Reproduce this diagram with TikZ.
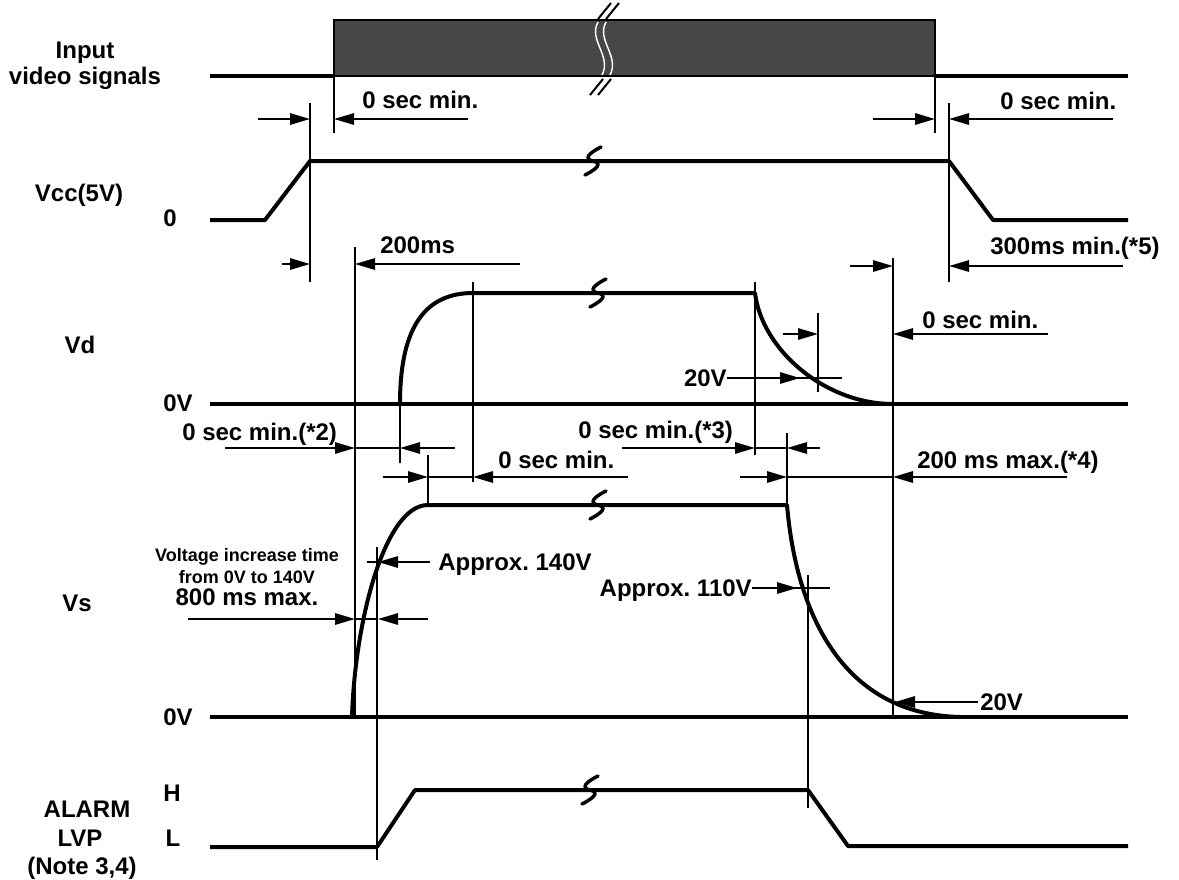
\documentclass[tikz,border=0pt]{standalone}
\usepackage{fontspec}
\setmainfont{Liberation Sans}
\usetikzlibrary{arrows.meta}
\begin{document}
\frenchspacing
\begin{tikzpicture}[x=0.75pt,y=-0.75pt,
  sig/.style={line width=3pt, line join=round},
  base/.style={line width=2.6pt},
  guide/.style={line width=1.5pt},
  dim/.style={line width=1.5pt, -{Triangle[length=15pt,width=8.5pt]}},
  lbl/.style={font=\fontsize{18}{21}\selectfont\bfseries, inner sep=0pt},
  sml/.style={font=\fontsize{13.5}{16}\selectfont\bfseries, inner sep=0pt},
  brk/.pic={\draw[line width=2.6pt,line cap=round] (8,-14) .. controls (0,-10) and (-9,-4) .. (-3,-1) -- (3,1) .. controls (9,4) and (0,10) .. (-8,14);}
]
\useasboundingbox (0,0) rectangle (1179,879);

% ---------- Input video signals ----------
\node[lbl,anchor=base] (tin1) at (85,58) {Input};
\node[lbl,anchor=base] (tin2) at (85,84) {video signals};
\draw[sig] (210,76) -- (334,76);
\filldraw[fill=black!72, draw=black, line width=1.5pt] (334,20) rectangle (935,76);
\draw[sig] (935,76) -- (1128,76);
\draw[white, line width=1.1pt] (598,22) .. controls (588,40) and (612,56) .. (602,75);
\draw[white, line width=1.1pt] (606,22) .. controls (596,40) and (620,56) .. (610,75);
\draw[line width=1.5pt] (598,19) -- (611,3);
\draw[line width=1.5pt] (606,19) -- (619,3);
\draw[line width=1.5pt] (603,79) -- (590,95);
\draw[line width=1.5pt] (611,79) -- (598,95);

\draw[guide] (334,76) -- (334,133);
\draw[guide] (310,103) -- (310,282);
\draw[dim] (258,119) -- (310,119);
\draw[dim] (468,119) -- (334,119);
\node[lbl,anchor=base west] (t0a) at (362,108) {0 sec min.};

\draw[guide] (935,76) -- (935,133);
\draw[guide] (949,103) -- (949,282);
\draw[dim] (873,119) -- (935,119);
\draw[dim] (1113,119) -- (949,119);
\node[lbl,anchor=base west] (t0b) at (1000,109) {0 sec min.};

% ---------- Vcc ----------
\node[lbl,anchor=base] (tvcc) at (79,201) {Vcc(5V)};
\node[lbl,anchor=base] (tvcc0) at (170,226) {0};
\draw[sig] (210,220) -- (265,220) -- (310,161) -- (949,161) -- (993,220) -- (1128,220);
\pic at (593,161) {brk};

\draw[dim] (282,264) -- (310,264);
\draw[dim] (520,264) -- (355,264);
\node[lbl,anchor=base west] (t200) at (380,253) {200ms};

\draw[dim] (850,266) -- (893,266);
\draw[dim] (1123,266) -- (949,266);
\node[lbl,anchor=base west] (t300) at (990,254) {300ms min.(*5)};

% ---------- Vd ----------
\node[lbl,anchor=base] (tvd) at (80,353) {Vd};
\node[lbl,anchor=base] (tvd0) at (178,411) {0V};
\draw[base] (210,404) -- (1128,404);
\draw[sig] (400,404) .. controls (400,335) and (420,293) .. (473,293) -- (755,293) .. controls (762,350) and (825,404) .. (893,404);
\pic at (598,293) {brk};

\draw[guide] (355,247) -- (355,717);
\draw[guide] (400,404) -- (400,463);
\draw[guide] (473,282) -- (473,482);
\draw[guide] (755,282) -- (755,455);
\draw[guide] (818,313) -- (818,392);
\draw[guide] (893,258) -- (893,719);

\draw[dim] (783,334) -- (818,334);
\draw[dim] (1048,334) -- (893,334);
\node[lbl,anchor=base west] (t0c) at (922,328) {0 sec min.};

\node[lbl,anchor=base east] (t20a) at (727,386) {20V};
\draw[guide] (727,378) -- (842,378);
\draw[dim] (727,378) -- (800,378);

\node[lbl,anchor=base west] (t0d) at (182,440) {0 sec min.(*2)};
\draw[dim] (225,448) -- (355,448);
\draw[guide] (355,448) -- (400,448);
\draw[dim] (455,448) -- (400,448);

\draw[guide] (428,455) -- (428,505);
\draw[dim] (383,477) -- (428,477);
\draw[guide] (428,477) -- (473,477);
\draw[dim] (628,477) -- (473,477);
\node[lbl,anchor=base west] (t0e) at (498,468) {0 sec min.};

\node[lbl,anchor=base west] (t0f) at (578,438) {0 sec min.(*3)};
\draw[guide] (787,433) -- (787,505);
\draw[dim] (622,448) -- (755,448);
\draw[guide] (755,448) -- (787,448);
\draw[dim] (820,448) -- (787,448);

\draw[dim] (740,477) -- (787,477);
\draw[guide] (787,477) -- (893,477);
\draw[dim] (1067,477) -- (893,477);
\node[lbl,anchor=base west] (t200b) at (917,468) {200 ms max.(*4)};

% ---------- Vs ----------
\node[lbl,anchor=base] (tvs) at (77,611) {Vs};
\node[lbl,anchor=base] (tvs0) at (178,725) {0V};
\draw[base] (210,717) -- (1128,717);
\draw[sig] (352,717) .. controls (355,620) and (385,505) .. (428,505) -- (787,505) .. controls (796,610) and (840,714) .. (960,717);
\pic at (598,505) {brk};

\draw[guide] (377,547) -- (377,860);
\draw[guide] (808,575) -- (808,808);

\draw[guide] (367,562) -- (378,562);
\draw[dim] (430,562) -- (378,562);
\node[lbl,anchor=base west] (t140) at (438,570) {Approx. 140V};

\node[lbl,anchor=base east] (t110) at (752,596) {Approx. 110V};
\draw[guide] (752,588) -- (830,588);
\draw[dim] (752,588) -- (797,588);

\node[sml,anchor=base] (tv1) at (247,561) {Voltage increase time};
\node[sml,anchor=base] (tv2) at (247,583) {from 0V to 140V};
\node[lbl,anchor=base] (tv3) at (247,605) {800 ms max.};
\draw[dim] (188,619) -- (355,619);
\draw[guide] (355,619) -- (378,619);
\draw[dim] (428,619) -- (378,619);

\draw[dim] (978,702) -- (895,702);
\node[lbl,anchor=base west] (t20b) at (980,710) {20V};

% ---------- ALARM ----------
\node[lbl,anchor=base] (tal1) at (87,817) {ALARM};
\node[lbl,anchor=base] (tal2) at (80,846) {LVP};
\node[lbl,anchor=base] (tal3) at (82,874) {(Note 3,4)};
\node[lbl,anchor=base] (th) at (172,801) {H};
\node[lbl,anchor=base] (tl) at (173,846) {L};
\draw[sig] (210,847) -- (377,847) -- (415,790) -- (808,790) -- (848,846) -- (1128,846);
\pic at (590,790) {brk};
\end{tikzpicture}
\end{document}
